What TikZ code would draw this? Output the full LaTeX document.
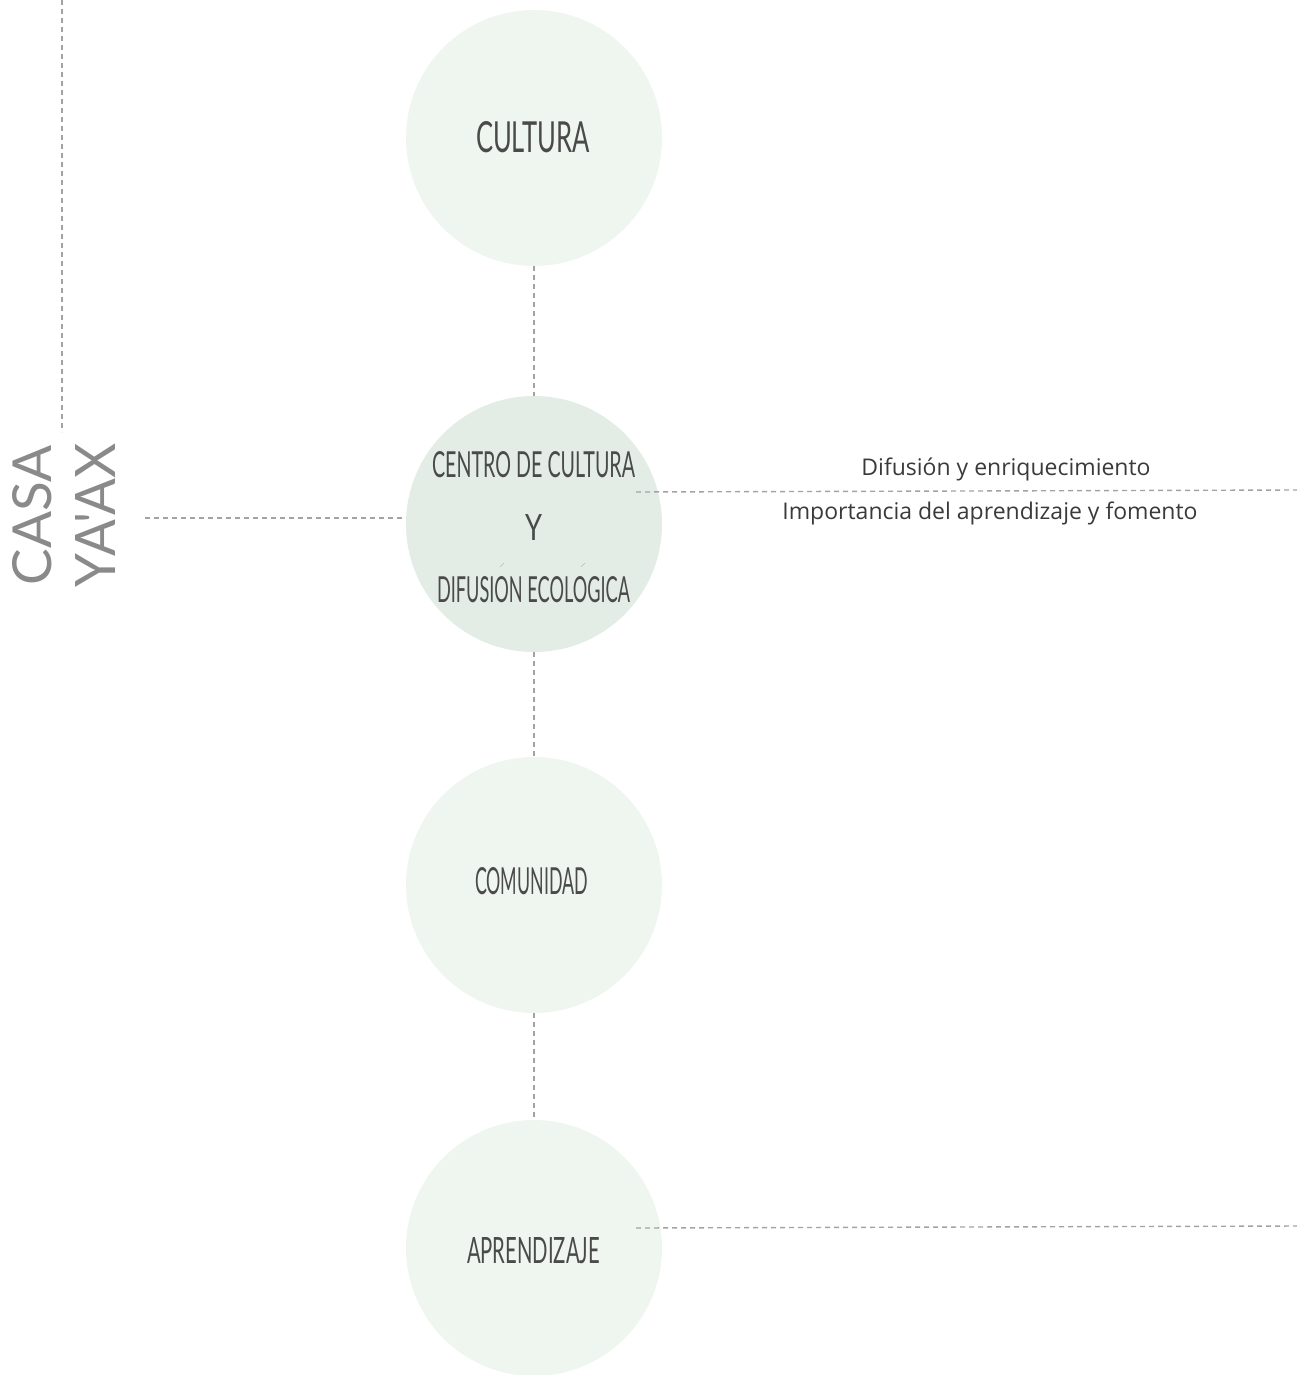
\documentclass[tikz,border=0pt]{standalone}
\usepackage{fontspec}
\setmainfont{Open Sans}
\newfontfamily\condfont{Lato}
\newfontfamily\casafont{Lato}
\definecolor{circA}{HTML}{EFF6EF}
\definecolor{circB}{HTML}{E3EDE5}
\definecolor{dashgray}{HTML}{A3A3A3}
\definecolor{titlegray}{HTML}{8A8A8A}
\definecolor{txtdark}{HTML}{3A3A3A}
\definecolor{bubtxt}{HTML}{4A4A4A}
\newcommand{\fitbox}[3]{\resizebox{#1pt}{#2pt}{#3}}
\tikzset{
  bubble/.style={circle, minimum size=256pt, inner sep=0pt, fill=circA, draw=none},
  bubbletext/.style={font=\condfont\fontsize{20}{20}\selectfont, text=bubtxt, inner sep=0pt},
  conn/.style={draw=dashgray, line width=1.4pt, dash pattern=on 5pt off 4pt},
  label/.style={font=\fontsize{23}{26}\selectfont, text=txtdark},
  casa/.style={font=\casafont\fontsize{40}{40}\selectfont, text=titlegray, rotate=90, inner sep=0pt}
}
\begin{document}
\begin{tikzpicture}[x=1pt,y=-1pt]
\useasboundingbox (0,0) rectangle (1297,1375);
% circles
\node[bubble] (c1) at (534,138) {};
\node[bubble, fill=circB] (c2) at (534,524) {};
\node[bubble] (c3) at (534,885) {};
\node[bubble] (c4) at (534,1248) {};
% texts in circles
\node[bubbletext] (t1) at (533,137.5) {\fitbox{114}{31}{CULTURA}};
\node[bubbletext] (t2a) at (533.5,465) {\fitbox{203}{26}{CENTRO DE CULTURA}};
\node[bubbletext] (t2b) at (533.5,527) {\fitbox{17}{26}{Y}};
\node[bubbletext] (t2c) at (533.5,590) {\fitbox{193}{26}{DIFUSION ECOLOGICA}};
\draw[txtdark!35, line width=0.6pt] (500,567) -- (504,563);
\draw[txtdark!35, line width=0.6pt] (581,567) -- (585,563);
\node[bubbletext] (t3) at (531.5,881.5) {\fitbox{113}{27}{COMUNIDAD}};
\node[bubbletext] (t4) at (533.5,1251) {\fitbox{133}{26}{APRENDIZAJE}};
% title
\node[casa] (casa) at (32.5,515) {\fitbox{140}{39}{CASA}};
\node[casa] (yaax) at (95,515) {\fitbox{144}{40}{YA'AX}};
% coordinates for free ends
\coordinate (vtop) at (62,0);
\coordinate (vbot) at (62,432);
\coordinate (hl) at (145,518);
\coordinate (r1a) at (636,492);
\coordinate (r1b) at (1297,490);
\coordinate (r2a) at (636,1228);
\coordinate (r2b) at (1297,1226);
% connectors
\draw[conn] (vtop) -- (vbot);
\draw[conn] (hl) -- (c2.west |- hl);
\draw[conn] (c1.south) -- (c2.north);
\draw[conn] (c2.south) -- (c3.north);
\draw[conn] (c3.south) -- (c4.north);
\draw[conn] (r1a) -- (r1b);
\draw[conn] (r2a) -- (r2b);
% labels
\node[label] (l1) at (1006,469) {Difusión y enriquecimiento};
\node[label] (l2) at (990,513) {Importancia del aprendizaje y fomento};
\end{tikzpicture}
\end{document}
